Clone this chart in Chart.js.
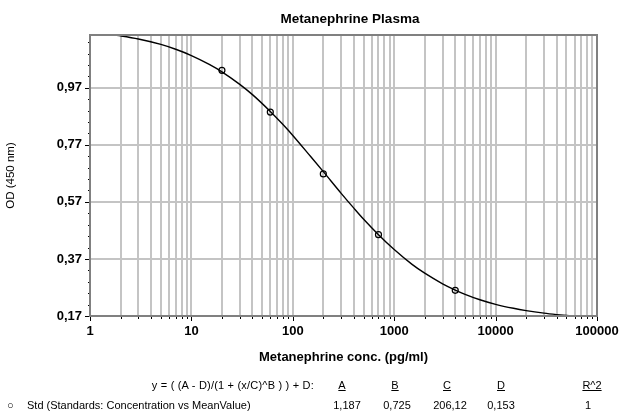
<!DOCTYPE html>
<html>
<head>
<meta charset="utf-8">
<script src="https://cdn.jsdelivr.net/npm/chart.js@4"></script>
<style>
  body { margin: 0; background: #fff; font-family: "Liberation Sans", Arial, sans-serif; }
  #wrap { position: relative; width: 619px; height: 417px; }
  #myChart { position: absolute; left: 0; top: 0; }
  .txt { position: absolute; font-size: 11px; color: #000; white-space: nowrap; line-height: 13px; }
  .hd { text-decoration: underline; transform: translateX(-50%); }
  .val { transform: translateX(-50%); }
  #formula { letter-spacing: 0.2px; }
  #title { font-weight: bold; font-size: 13.5px; line-height: 16px; transform: translateX(-50%); }
</style>
</head>
<body>
<div id="wrap">
  <canvas id="myChart" width="619" height="417"></canvas>
  <div class="txt" id="title" style="left:350px; top:11px;">Metanephrine Plasma</div>
  <div class="txt" id="formula" style="right:305px; top:379px;">y = ( (A - D)/(1 + (x/C)^B ) ) + D:</div>
  <div class="txt hd" style="left:342px; top:379px;">A</div>
  <div class="txt hd" style="left:395px; top:379px;">B</div>
  <div class="txt hd" style="left:447px; top:379px;">C</div>
  <div class="txt hd" style="left:501px; top:379px;">D</div>
  <div class="txt hd" style="left:592px; top:379px;">R^2</div>
  <div class="txt" style="left:7px; top:399px;">&#9675;</div>
  <div class="txt" style="left:27px; top:399px;">Std (Standards: Concentration vs MeanValue)</div>
  <div class="txt val" style="left:347px; top:399px;">1,187</div>
  <div class="txt val" style="left:397px; top:399px;">0,725</div>
  <div class="txt val" style="left:450px; top:399px;">206,12</div>
  <div class="txt val" style="left:501px; top:399px;">0,153</div>
  <div class="txt val" style="left:588px; top:399px;">1</div>
</div>
<script>
// standards (measured points)
const stdConc = [20, 60, 200, 700, 4000];
const stdOD = [1.031, 0.885, 0.668, 0.455, 0.260];

// fitted 4PL curve
const curveConc = [1.75, 2, 3, 5, 7, 10, 15, 20, 30, 40, 60, 80, 100, 150, 200, 300, 400, 500, 700,
    1000, 1500, 2000, 3000, 4000, 5000, 7000, 10000, 15000, 20000, 30000, 40000, 56000];
const curveOD = [1.155, 1.152, 1.141, 1.122, 1.105, 1.083, 1.052, 1.026, 0.982, 0.946, 0.887, 0.841, 0.803,
    0.729, 0.676, 0.600, 0.548, 0.509, 0.455, 0.403, 0.351, 0.320, 0.283, 0.261, 0.246, 0.227, 0.211,
    0.197, 0.189, 0.180, 0.175, 0.170];

// axes
const xDecades = [1, 10, 100, 1000, 10000, 100000];
const yTicks = [0.17, 0.37, 0.57, 0.77, 0.97];
const yMin = 0.17, yMax = 1.155;

let xGrid = [];
xDecades.slice(0, -1).forEach(d => {
    for (let m = 1; m < 10; m++) xGrid.push(d * m);
});
xGrid.push(100000);

const frame = {
    id: 'frame',
    afterDraw(chart) {
        const { ctx, chartArea: a, scales: { x, y } } = chart;
        ctx.save();
        ctx.strokeStyle = '#000';
        ctx.lineWidth = 1;
        ctx.beginPath();
        xGrid.forEach(v => {
            const px = Math.round(x.getPixelForValue(v)) + 0.5;
            const len = xDecades.includes(v) ? 5 : 3;
            ctx.moveTo(px, a.bottom);
            ctx.lineTo(px, a.bottom + len);
        });
        for (let v = yMin; v < yMax; v += 0.04) {
            const py = Math.round(y.getPixelForValue(v)) + 0.5;
            const major = yTicks.some(t => Math.abs(t - v) < 0.001);
            ctx.moveTo(a.left, py);
            ctx.lineTo(a.left - (major ? 5 : 2), py);
        }
        ctx.stroke();
        ctx.strokeStyle = '#808080';
        ctx.lineWidth = 2;
        ctx.strokeRect(a.left, a.top, a.right - a.left, a.bottom - a.top);
        ctx.restore();
    }
};

const ctx = document.getElementById('myChart').getContext('2d');
new Chart(ctx, {
    type: 'scatter',
    data: {
        datasets: [{
            data: curveConc.map((c, i) => ({ x: c, y: curveOD[i] })),
            showLine: true,
            borderColor: '#000',
            borderWidth: 1.4,
            pointRadius: 0,
            cubicInterpolationMode: 'monotone'
        }, {
            data: stdConc.map((c, i) => ({ x: c, y: stdOD[i] })),
            showLine: false,
            pointRadius: 3,
            pointBorderWidth: 1.2,
            pointBorderColor: '#000',
            pointBackgroundColor: 'rgba(255,255,255,0)'
        }]
    },
    options: {
        responsive: false,
        animation: false,
        layout: { padding: { left: 0, right: 22, top: 35, bottom: 51 } },
        plugins: {
            legend: { display: false },
            tooltip: { enabled: false }
        },
        scales: {
            x: {
                type: 'logarithmic',
                min: 1,
                max: 100000,
                afterBuildTicks: scale => { scale.ticks = xGrid.map(v => ({ value: v })); },
                afterFit: scale => {
                    scale.height = 50;
                    scale.paddingLeft = 0;
                    scale.paddingRight = 0;
                },
                ticks: {
                    autoSkip: false,
                    maxRotation: 0,
                    padding: 8,
                    color: '#000',
                    font: { family: 'Liberation Sans', size: 13, weight: 'bold' },
                    callback: v => xDecades.includes(v) ? String(v) : ''
                },
                grid: { color: '#c4c4c4', lineWidth: 2, drawTicks: false },
                border: { display: false },
                title: {
                    display: true,
                    text: 'Metanephrine conc. (pg/ml)',
                    color: '#000',
                    padding: { top: 0, bottom: 1 },
                    font: { family: 'Liberation Sans', size: 13, weight: 'bold' }
                }
            },
            y: {
                min: yMin,
                max: yMax,
                afterBuildTicks: scale => { scale.ticks = yTicks.map(v => ({ value: v })); },
                afterFit: scale => {
                    scale.width = 90;
                    scale.paddingTop = 0;
                    scale.paddingBottom = 0;
                },
                ticks: {
                    padding: 8,
                    color: '#000',
                    font: { family: 'Liberation Sans', size: 13, weight: 'bold' },
                    callback: v => v.toFixed(2).replace('.', ',')
                },
                grid: { color: '#c4c4c4', lineWidth: 2, drawTicks: false },
                border: { display: false },
                title: {
                    display: true,
                    text: 'OD (450 nm)',
                    color: '#000',
                    padding: { top: 4, bottom: 0 },
                    font: { family: 'Liberation Sans', size: 11.5 }
                }
            }
        }
    },
    plugins: [frame]
});
</script>
</body>
</html>
